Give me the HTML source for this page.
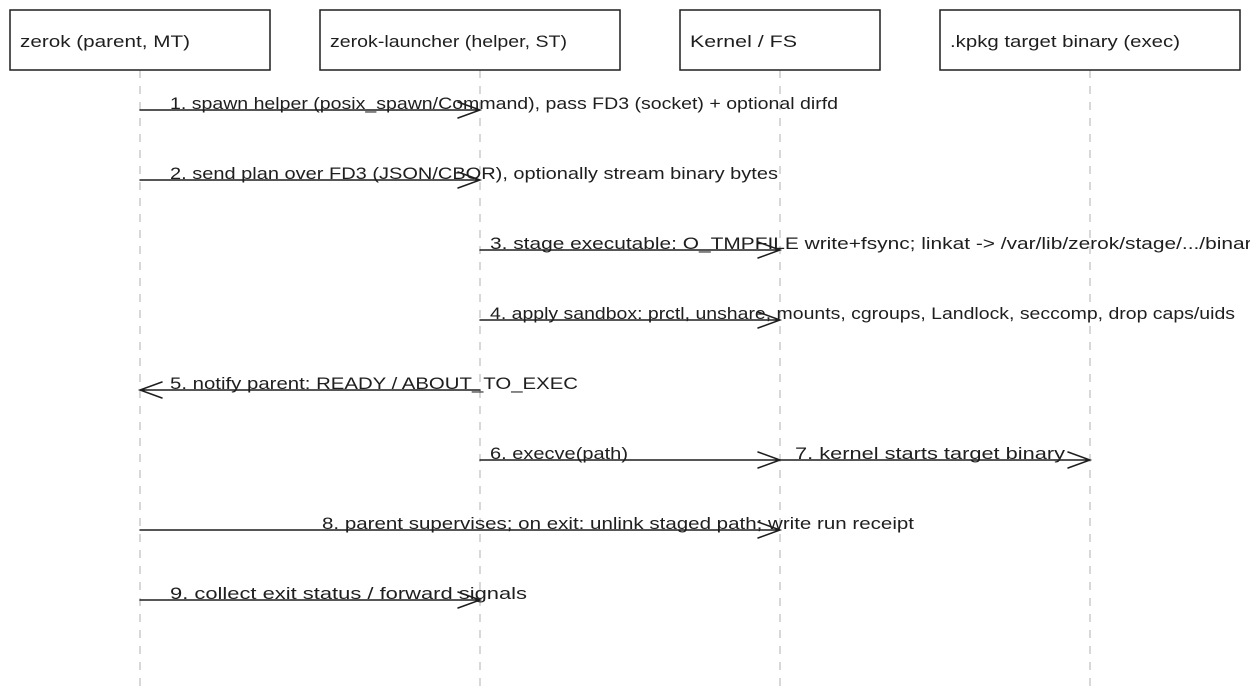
<!DOCTYPE html>
<html><head><meta charset="utf-8"><style>
html,body{margin:0;padding:0;background:#fff;width:1250px;height:700px;overflow:hidden}
svg text{font-family:"Liberation Sans",sans-serif;font-size:17px;fill:#1e1e1e}
</style></head><body>
<svg width="1250" height="700" xmlns="http://www.w3.org/2000/svg">
<g stroke="#ccc" stroke-width="1.5" stroke-dasharray="8 8" fill="none">
<line x1="140" y1="70" x2="140" y2="692"/>
<line x1="480" y1="70" x2="480" y2="692"/>
<line x1="780" y1="70" x2="780" y2="692"/>
<line x1="1090" y1="70" x2="1090" y2="692"/>
</g>
<g stroke="#1e1e1e" stroke-width="1.5" fill="#fff">
<rect x="10" y="10" width="260" height="60"/>
<rect x="320" y="10" width="300" height="60"/>
<rect x="680" y="10" width="200" height="60"/>
<rect x="940" y="10" width="300" height="60"/>
</g>
<text x="20" y="47" textLength="170" lengthAdjust="spacingAndGlyphs">zerok (parent, MT)</text>
<text x="330" y="47" textLength="237" lengthAdjust="spacingAndGlyphs">zerok-launcher (helper, ST)</text>
<text x="690" y="47" textLength="107" lengthAdjust="spacingAndGlyphs">Kernel / FS</text>
<text x="950" y="47" textLength="230" lengthAdjust="spacingAndGlyphs">.kpkg target binary (exec)</text>
<g stroke="#1e1e1e" stroke-width="1.5" fill="none" stroke-linecap="round">
<path d="M140 110H480M458 102L480 110L458 118"/>
<path d="M140 180H480M458 172L480 180L458 188"/>
<path d="M480 250H780M758 242L780 250L758 258"/>
<path d="M480 320H780M758 312L780 320L758 328"/>
<path d="M480 390H140M162 382L140 390L162 398"/>
<path d="M480 460H780M758 452L780 460L758 468"/>
<path d="M780 460H1090M1068 452L1090 460L1068 468"/>
<path d="M140 530H780M758 522L780 530L758 538"/>
<path d="M140 600H480M458 592L480 600L458 608"/>
</g>
<text x="170" y="109" textLength="668" lengthAdjust="spacingAndGlyphs">1. spawn helper (posix_spawn/Command), pass FD3 (socket) + optional dirfd</text>
<text x="170" y="179" textLength="608" lengthAdjust="spacingAndGlyphs">2. send plan over FD3 (JSON/CBOR), optionally stream binary bytes</text>
<text x="490" y="249" textLength="772" lengthAdjust="spacingAndGlyphs">3. stage executable: O_TMPFILE write+fsync; linkat -&gt; /var/lib/zerok/stage/.../binary</text>
<text x="490" y="319" textLength="745" lengthAdjust="spacingAndGlyphs">4. apply sandbox: prctl, unshare, mounts, cgroups, Landlock, seccomp, drop caps/uids</text>
<text x="170" y="389" textLength="408" lengthAdjust="spacingAndGlyphs">5. notify parent: READY / ABOUT_TO_EXEC</text>
<text x="490" y="459" textLength="138" lengthAdjust="spacingAndGlyphs">6. execve(path)</text>
<text x="795" y="459" textLength="270" lengthAdjust="spacingAndGlyphs">7. kernel starts target binary</text>
<text x="322" y="529" textLength="592" lengthAdjust="spacingAndGlyphs">8. parent supervises; on exit: unlink staged path; write run receipt</text>
<text x="170" y="599" textLength="357" lengthAdjust="spacingAndGlyphs">9. collect exit status / forward signals</text>
</svg>
</body></html>
